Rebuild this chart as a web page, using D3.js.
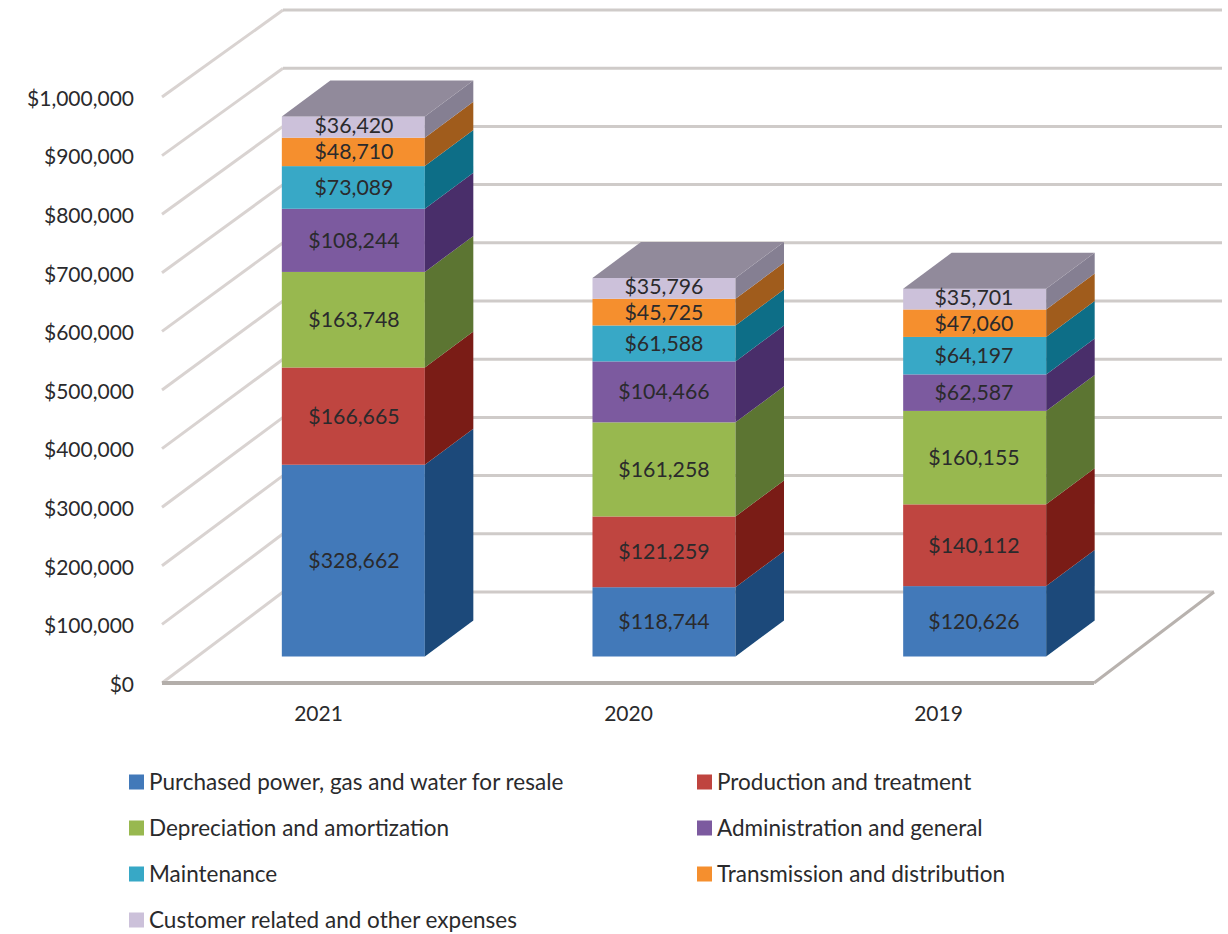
<!DOCTYPE html>
<html><head><meta charset="utf-8">
<script src="https://cdnjs.cloudflare.com/ajax/libs/d3/7.8.5/d3.min.js"></script>
<style>html,body{margin:0;padding:0;background:#fff}svg{display:block}text{font-family:Lato,"Open Sans",sans-serif;fill:#2a2a2c}</style>
</head><body><svg id="c" width="1228" height="934"></svg>
<script>
const years = ["2021","2020","2019"];
const seriesNames = ["Purchased power, gas and water for resale","Production and treatment","Depreciation and amortization","Administration and general","Maintenance","Transmission and distribution","Customer related and other expenses"];
const purchased = [328662,118744,120626];
const production = [166665,121259,140112];
const depreciation = [163748,161258,160155];
const administration = [108244,104466,62587];
const maintenance = [73089,61588,64197];
const transmission = [48710,45725,47060];
const customer = [36420,35796,35701];
const frontColors = ["#4279b9","#bf443f","#98b84f","#7c5a9f","#37a8c6","#f58f2e","#ccc1da"];
const sideColors = ["#1a4a7a","#7a1c18","#5c7431","#4a2f6b","#0e6e87","#a05c1e","#857f92"];
const topColor = "#918a9b";
const axisTicks = [0,100000,200000,300000,400000,500000,600000,700000,800000,900000,1000000];

const allSeries = [purchased,production,depreciation,administration,maintenance,transmission,customer];
const rows = years.map((y,i)=>{const r={year:y};seriesNames.forEach((n,k)=>r[n]=allSeries[k][i]);return r;});
const stacked = d3.stack().keys(seriesNames)(rows);

const svg = d3.select("#c");
const fmt = v => "$"+d3.format(",")(v);
const defs = svg.append("defs");
defs.append("filter").attr("id","soft").append("feGaussianBlur").attr("stdDeviation",0.6);
defs.append("filter").attr("id","soft2").append("feGaussianBlur").attr("stdDeviation",0.35);

const yFront = d3.scaleLinear().domain([0,1e6]).range([683,97]);
const yWall = d3.scaleLinear().domain([0,1e6]).range([592,10]);
const yBar = d3.scaleLinear().domain([0,1e6]).range([656.5,73]);
const xBar = d3.scaleBand().domain(years).range([198,1130]);
const xCat = d3.scalePoint().domain(years).range([318.5,938.5]);
const xLabel = d3.scalePoint().domain(years).range([354,974]);
const cx = y => xBar(y)+xBar.bandwidth()/2;
const barW = 143, depthX = 48.5, depthY = 36;

const wallL = 283, wallR = 1214, frontL = 162, frontR = 1094;
const line = d3.line();
const gridG = svg.append("g").attr("fill","none").attr("filter","url(#soft)");
axisTicks.forEach(v=>{
  gridG.append("path").attr("d",line([[frontL,yFront(v)],[wallL,yWall(v)]])).attr("stroke","#d9d3d1").attr("stroke-width",3);
  if(v>0) gridG.append("path").attr("d",line([[wallL,yWall(v)],[wallR+8,yWall(v)]])).attr("stroke","#cfcbc9").attr("stroke-width",3);
});
gridG.append("path").attr("d",line([[wallL,yWall(0)],[wallR,yWall(0)]])).attr("stroke","#cfcac8").attr("stroke-width",3);
gridG.append("path").attr("d",line([[wallR,yWall(0)],[frontR,yFront(0)]])).attr("stroke","#b8b2ae").attr("stroke-width",3);
gridG.append("path").attr("d",line([[frontL,yFront(0)],[frontR,yFront(0)]])).attr("stroke","#b3aeaa").attr("stroke-width",4);

const bars = svg.append("g").attr("filter","url(#soft2)");
stacked.forEach((s,k)=>{
  s.forEach((d,i)=>{
    const yr = years[i], x0 = cx(yr)-barW/2, x1 = x0+barW;
    const yb = yBar(d[0]), yt = yBar(d[1]);
    bars.append("rect").attr("x",x0).attr("y",yt).attr("width",barW).attr("height",yb-yt).attr("fill",frontColors[k]);
    bars.append("path").attr("d",line([[x1,yb],[x1+depthX,yb-depthY],[x1+depthX,yt-depthY],[x1,yt]])+"Z").attr("fill",sideColors[k]);
    if(k===stacked.length-1)
      bars.append("path").attr("d",line([[x0,yt],[x0+depthX,yt-depthY],[x1+depthX,yt-depthY],[x1,yt]])+"Z").attr("fill",topColor);
  });
});
const labels = svg.append("g").attr("text-anchor","middle").attr("font-size",21.3);
stacked.forEach((s,k)=>{
  s.forEach((d,i)=>{
    labels.append("text").attr("x",xLabel(years[i])).attr("y",(yBar(d[0])+yBar(d[1]))/2-(k===6?1.5:0)).attr("dy","0.35em").text(fmt(d[1]-d[0]));
  });
});
const ax = svg.append("g").attr("transform","translate(142,1.5)")
  .call(d3.axisLeft(yFront).tickValues(axisTicks).tickFormat(fmt).tickSize(0).tickPadding(8));
ax.select(".domain").remove();
ax.selectAll("text").attr("font-size",21).style("font-family",'Lato,sans-serif').attr("fill","#2a2a2c");
svg.append("g").attr("text-anchor","middle").attr("font-size",21).selectAll("text").data(years).join("text")
  .attr("x",d=>xCat(d)).attr("y",714).attr("dy","0.35em").text(d=>d);
const lx = [129,697], ly = [782,828,874,920];
const lg = svg.append("g");
seriesNames.forEach((n,k)=>{
  const col = k%2, row = Math.floor(k/2);
  lg.append("rect").attr("x",lx[col]).attr("y",ly[row]-7.5).attr("width",15).attr("height",15).attr("fill",frontColors[k]);
  lg.append("text").attr("x",lx[col]+20).attr("y",ly[row]).attr("dy","0.35em").attr("font-size",22.5).text(n);
});
</script></body></html>
